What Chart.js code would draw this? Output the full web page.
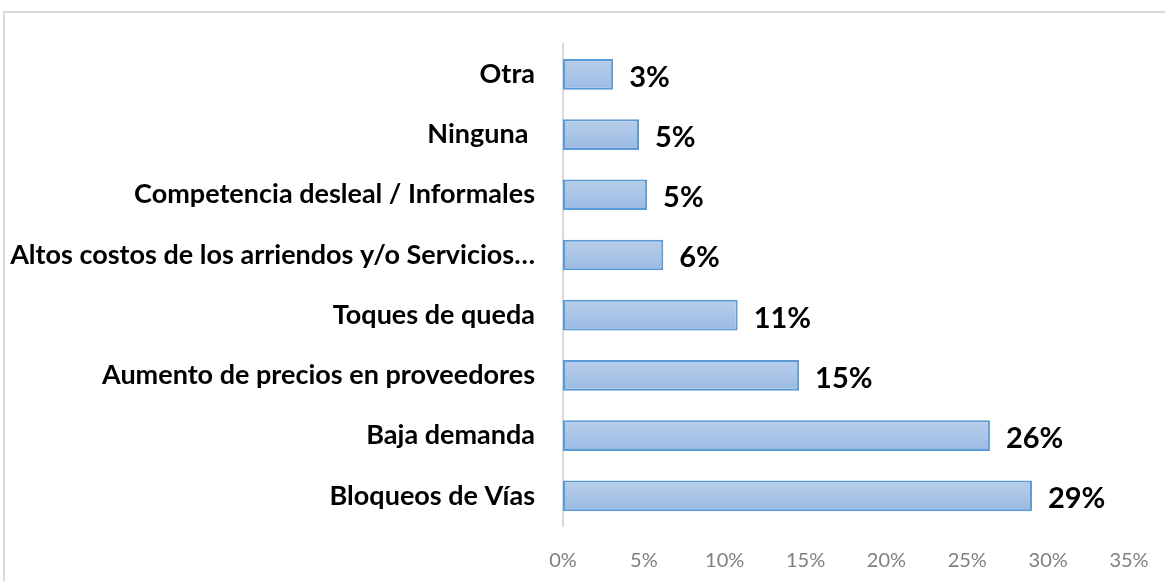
<!DOCTYPE html>
<html>
<head>
<meta charset="utf-8">
<script src="https://cdn.jsdelivr.net/npm/chart.js@4.4.1/dist/chart.umd.min.js"></script>
<style>
  body { margin: 0; background: #fff; }
  .frame { position: absolute; left: 3px; top: 11px; width: 1200px; height: 620px; border: 2px solid #d9d9d9; }
  .chart-container { position: relative; width: 1165px; height: 581px; }
</style>
</head>
<body>
<div class="frame"></div>
<div class="chart-container">
  <canvas id="myChart"></canvas>
</div>
<script>
const categories = ['Otra', 'Ninguna ', 'Competencia desleal / Informales', 'Altos costos de los arriendos y/o Servicios…', 'Toques de queda', 'Aumento de precios en proveedores', 'Baja demanda', 'Bloqueos de Vías'];
const values = [3.1, 4.7, 5.2, 6.2, 10.8, 14.6, 26.4, 29.0];
const tickValues = [0, 5, 10, 15, 20, 25, 30, 35];

const barGradient = (context) => {
  const chart = context.chart;
  const yScale = chart.scales.y;
  if (!yScale || context.dataIndex === undefined) return '#a9c4e8';
  const y = yScale.getPixelForValue(context.dataIndex);
  const band = (yScale.bottom - yScale.top) / categories.length;
  const h = band * 0.51;
  if (!isFinite(y) || !isFinite(h) || h <= 0) return '#a9c4e8';
  const g = chart.ctx.createLinearGradient(0, y - h / 2, 0, y + h / 2);
  g.addColorStop(0, '#b9cfea');
  g.addColorStop(1, '#9abae3');
  return g;
};

// percentage labels right of each bar
const valueLabels = {
  id: 'valueLabels',
  afterDatasetsDraw(chart) {
    const ctx = chart.ctx;
    const meta = chart.getDatasetMeta(0);
    ctx.save();
    ctx.font = 'bold 29px Lato';
    ctx.fillStyle = '#000';
    ctx.textAlign = 'left';
    ctx.textBaseline = 'middle';
    meta.data.forEach((bar, i) => {
      ctx.fillText(Math.round(values[i]) + '%', bar.x + 16, bar.y + 3);
    });
    ctx.restore();
  }
};

const ctx = document.getElementById('myChart').getContext('2d');
const myChart = new Chart(ctx, {
  type: 'bar',
  data: {
    labels: categories,
    datasets: [{
      data: values,
      backgroundColor: barGradient,
      borderColor: '#5b9bd5',
      borderWidth: 2,
      borderSkipped: false,
      barPercentage: 0.51,
      categoryPercentage: 1,
    }],
  },
  options: {
    indexAxis: 'y',
    responsive: true,
    maintainAspectRatio: false,
    animation: false,
    layout: { padding: { top: 41, right: 36, left: 0, bottom: 0 } },
    plugins: {
      legend: { display: false },
      tooltip: { enabled: false },
    },
    scales: {
      x: {
        min: 0,
        max: 35,
        afterFit: (scale) => {
          scale.height = 55;
          scale.paddingLeft = 0;
          scale.paddingRight = 0;
        },
        afterBuildTicks: (scale) => { scale.ticks = tickValues.map(v => ({ value: v })); },
        grid: { display: false, drawTicks: false },
        border: { display: false },
        ticks: {
          padding: 23,
          color: '#808080',
          font: { family: 'Lato', size: 20 },
          callback: (v) => v + '%',
        },
      },
      y: {
        afterFit: (scale) => { scale.width = 563; },
        grid: { display: false, drawTicks: false },
        border: { display: true, color: '#d9d9d9', width: 2 },
        ticks: {
          padding: 28,
          color: '#000',
          autoSkip: false,
          font: { family: 'Lato', size: 27, weight: 'bold' },
        },
      },
    },
  },
  plugins: [valueLabels],
});
</script>
</body>
</html>
